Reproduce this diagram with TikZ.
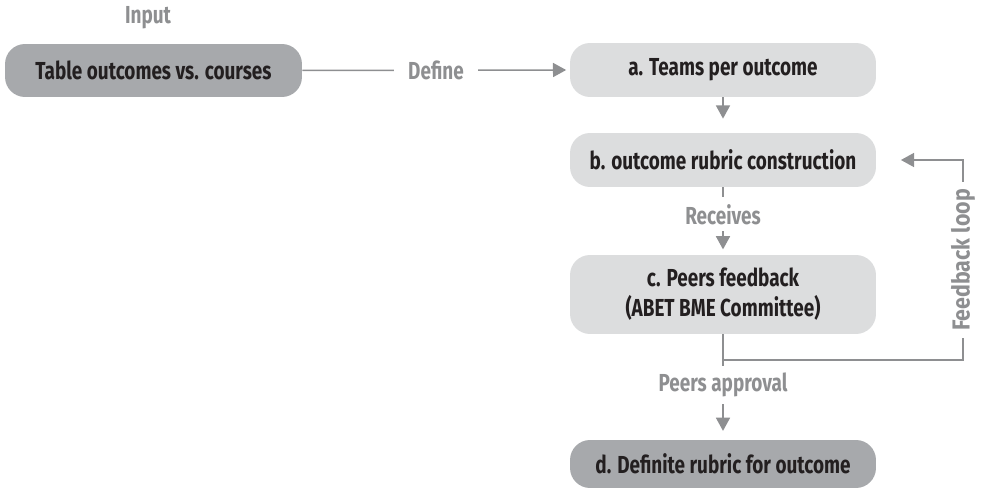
\documentclass[tikz,border=0pt]{standalone}
\usepackage{fontspec}
\setmainfont{Fira Sans}[FakeStretch=0.77]
\newfontfamily\loopfont{Fira Sans}[FakeStretch=0.87]
\usetikzlibrary{arrows.meta,positioning}

\definecolor{darkbox}{HTML}{A7A9AC}
\definecolor{lightbox}{HTML}{DCDDDE}
\definecolor{linegray}{HTML}{8E8F91}
\definecolor{textdark}{HTML}{231F20}

\tikzset{
  box/.style={fill=lightbox, rounded corners=0.4cm, align=center, text=textdark,
    font=\fontsize{14}{17}\selectfont\bfseries, inner sep=0pt},
  darkbox/.style={box, fill=darkbox},
  lbl/.style={text=linegray, font=\fontsize{14}{17}\selectfont\bfseries, fill=white, inner sep=4pt},
  link/.style={draw=linegray, line width=0.85pt},
  tip/.style={-{Triangle[length=7.5pt,width=8pt]}}
}

\begin{document}
\begin{tikzpicture}[x=0.02cm, y=-0.02cm]
  \useasboundingbox (0,0) rectangle (981,489);
  % boxes
  \node[darkbox, minimum width=5.94cm, minimum height=1.06cm] (tbl) at (153.5,70.5) {Table outcomes vs. courses};
  \node[lbl] (input) at (148,18) {Input};
  \node[box, minimum width=6.12cm, minimum height=1.08cm] (teams) at (723,70) {a. Teams per outcome};
  \node[box, minimum width=6.12cm, minimum height=1.08cm] (rubric) at (723,160) {b. outcome rubric construction};
  \node[box, minimum width=6.12cm, minimum height=1.58cm] (peers) at (723,294.5) {c. Peers feedback\\(ABET BME Committee)};
  \node[darkbox, minimum width=6.12cm, minimum height=0.96cm] (final) at (723,464) {d. Definite rubric for outcome};
  % connectors
  \draw[link, tip, shorten >=2pt] (tbl.east) -- node[lbl, inner xsep=8pt] {Define} (teams.west);
  \draw[link, tip, shorten >=8pt] (teams.south) -- (rubric.north);
  \draw[link, tip, shorten >=3pt] (rubric.south) -- node[lbl, pos=0.4] {Receives} (peers.north);
  \coordinate (fork) at (723,360);
  \coordinate (turn) at (963,360);
  \draw[link, tip, shorten >=5pt] (peers.south) -- node[lbl, pos=0.48] {Peers approval} (final.north);
  \draw[link, tip, shorten >=14pt] (fork) -- (turn)
    -- node[lbl, rotate=90, inner ysep=6pt, font=\fontsize{14}{17}\loopfont\bfseries] {Feedback loop} (turn |- rubric.east) -- (rubric.east);
\end{tikzpicture}
\end{document}
